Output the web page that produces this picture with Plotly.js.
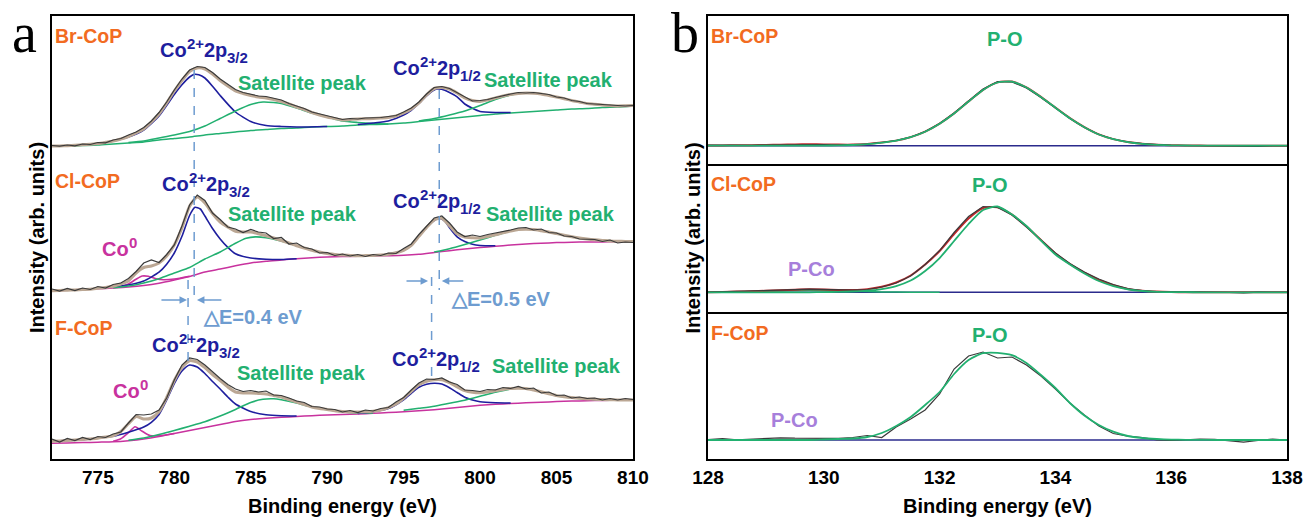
<!DOCTYPE html>
<html><head><meta charset="utf-8">
<script src="https://cdn.plot.ly/plotly-3.0.1.min.js"></script>
<style>html,body{margin:0;padding:0;background:#fff}</style>
</head><body><div id="chart" style="width:1308px;height:521px"></div>
<script>
// ---------- Panel a : Co 2p (binding energy, eV) ----------
const eA = [772,773,774,775,776,777,778,779,780,781,782,783,784,785,786,787,788,789,790,791,792,793,794,795,796,797,798,799,800,801,802,803,804,805,806,807,808,809,810];
const eAh = [772,772.5,773,773.5,774,774.5,775,775.5,776,776.5,777,777.5,778,778.5,779,779.5,780,780.5,781,781.5,782,782.5,783,783.5,784,784.5,785,785.5,786,786.5,787,787.5,788,788.5,789,789.5,790,790.5,791,791.5,792,792.5,793,793.5,794,794.5,795,795.5,796,796.5,797,797.5,798,798.5,799,799.5,800,800.5,801,801.5,802,802.5,803,803.5,804,804.5,805,805.5,806,806.5,807,807.5,808,808.5,809,809.5,810];

// Br-CoP
const brBg = [313,313,313.5,314,315,316,317,319,320.5,322,324,325.5,327,328.5,329.5,330.5,331,332,332.5,333,334,334.5,335,336,337.5,339,340.5,342,343.5,345,346,347,348,349,350,350.5,351.5,352,353];
const brEnv = [313,313.1,313.3,313.7,314.2,314.8,315.5,316.7,318,320,322.5,326,330,337,345,356,368,378.5,387.5,391,390,385,378.5,373,368,365.5,363.5,362,361,359.5,357.5,355,352,349.5,346.5,344,342,340.5,339,339.5,340,340.2,340.5,341,341.5,343,346,350,356,364.2,370.5,371.5,370,366,361,358.5,357.5,359,361,363,364.5,365.5,366,365.8,365,363.5,362,360.3,358.5,357,355.5,354.8,354,353.5,353,353.2,353.5];
const brRaw = [313.5,312.8,314,313.2,315,314.5,316.5,316.2,319,320.5,324,327,331.5,338,346.5,357,369,380,389,392.5,391.5,386.5,380,374.5,369.5,366.5,365,363,362.5,360.5,359,355.5,353,350.5,347,345,343,341.5,339.5,340.5,340,341,341,341.5,342.5,343.5,347,351,357,365,371.5,372.5,370.5,366.5,362,358,358.5,359.5,361.5,363.5,365,366.5,366,366.5,365.5,364.5,362,361,358.5,357.5,355.5,355,354.5,353.5,353.5,353,353.5];
const brP32x = [774,775,776,777,778,779,780,780.5,781,781.3,781.6,782,782.5,783,784,785,786,787,788,790];
const brP32y = [314.2,315.5,318,322,329,343,364.5,374.2,382,384.6,384.2,381,372.8,363.5,347,337.5,333.5,332.5,332,332.5];
const brSat1x = [777,778,779,780,781,782,783,784,785,785.8,786.5,787,788,789,790,791,792,793,794];
const brSat1y = [316.5,318,321,324,327.5,333,340.5,348,354.5,357,356.5,355.5,351,346,342,338,336.5,335.5,335];
const brP12x = [792,793,794,795,795.5,796,796.5,797,797.2,797.5,798,798.5,799,799.5,800,801,802];
const brP12y = [334.5,336,338,344,348.7,355.5,363.2,369,370,369.7,366.5,362.2,355,350.7,347.5,346.5,346.5];
const brSat2x = [796,797,798,799,800,801,802,802.8,803.5,804,805,806,807,808,809,810];
const brSat2y = [338,340.5,344,348,353.5,359.5,364,366,366,365,362,358.5,355.5,354,353,353.5];

// Cl-CoP
const clBg = [168.3,168.8,169.5,170.2,171,172,173.5,175.8,179,182.5,187,190,193.2,196,197.8,199,200.3,201.3,202,202.4,202.8,203,203.3,203.7,204.7,206.5,208.3,210,211.5,212.7,214,215,215.8,216.4,216.8,217,217.1,217.2,217.3];
const clEnv = [168.3,168.5,168.8,169.1,169.5,169.8,170.7,171.6,172.8,175,178,186,191.5,193,196,203,214,231.2,252.8,262,256,245.5,237,232,227.7,227,227,225.3,223.3,221,218.5,216,213.3,211,208.8,207,205.5,204.6,203.9,203.6,203.3,203.4,203.5,204,204.8,206.2,208.7,213.7,222.7,231.6,239,240.8,233.3,225.2,222,221.3,221,222.5,224.2,226.2,228,229.5,229.8,229.5,228.3,227,225.4,223.8,222.3,221,220,219.2,218.6,218,217.7,217.6,217.5];
const clRaw = [170,168,170.5,168.5,171,169.5,172.5,171,174.5,176,180.5,187.5,196,199,196.5,204.5,214,233,254,264,258.5,246,239.5,232,230,226.5,229.5,227,226,220.5,221.5,215,216,211.5,210,206,206.5,203.5,205,203,204.5,202.5,204.5,203.5,206,205.5,210.5,215,224.5,233,241,243,236,227,222.5,224,222.5,224.5,226,227,229,231,231.5,229,230,226.5,226,223,222.5,220,219.5,219.5,217.5,219,216,217,216.5];
const clCo0x = [776,776.5,777,777.5,777.9,778.3,778.8,779.3,780,781];
const clCo0y = [171.3,172.5,175,179.8,183,182.7,180.2,179.3,180,182.8];
const clP32x = [775,776,777,778,779,779.5,780,780.5,781,781.35,781.7,782,782.5,783,783.5,784,785,786,787,788];
const clP32y = [170.7,172.2,174,178,186.8,194.8,206,222.7,243.5,251.7,250,243,230.5,220,211.6,205.2,201,199.8,199.5,200.3];
const clSat1x = [776,777,778,779,780,781,782,783,784,784.7,785.3,786,787,788,789,790,791,792];
const clSat1y = [171.3,173,176,180.3,186,191.5,200,207,215.7,220.7,222.1,221.3,218,213.3,208.8,205.5,203.9,203.3];
const clP12x = [793,794,795,795.5,796,796.5,797,797.33,797.7,798,798.5,799,799.5,800,801];
const clP12y = [203.5,204.8,208.7,213.7,222.7,231.6,238.5,240.7,237.8,231.3,222.2,217.5,214.7,213.5,213.2];
const clSat2x = [797,798,799,800,801,802,802.6,803.3,804,805,806,807,808,809,810];
const clSat2y = [207,210.3,214.5,219,223.7,228,229.7,229.7,228.3,225.4,222.3,220,218.6,217.7,217.5];

// F-CoP
const fBg = [15.7,16,16.4,16.8,17.2,18.3,20,22.5,25.5,28.5,31.5,34.5,37.5,39.5,40.8,41.7,42.5,43.3,44,44.5,45,45.7,46.4,47.2,48.2,49.3,50.8,52.3,53.7,54.7,55.5,56.2,56.8,57.4,57.9,58.3,58.6,58.8,59];
const fEnv = [17.7,18.1,18.5,19,19.4,20.1,20.8,22,23.2,27.5,35.3,42.5,40,41,47.2,61.5,78.5,91.6,98.3,97,91.3,84.5,78.5,72,67,66,66,65.5,65,63.5,62,59.5,57,54.5,52,50.5,49.5,48.2,47.5,47,47,47.3,47.8,49,51.4,55,60.7,67.7,74.2,77.7,79.3,79.2,76.3,72.2,68.3,66.7,66.2,67,68.2,69.5,70.5,70.7,70.5,69,67.3,65.3,63.4,62.3,61.4,60.7,60.1,59.7,59.4,59.2,59.1,59,59];
const fRaw = [20,17,20.5,18.5,21.5,19.5,22.5,21.5,25,27,36,44.5,44,45,49,61,79,94,101,99.5,94,87,80.5,74.5,70,67.5,68.5,67,68,64,63.5,61,58,56.5,52.5,52,50,49.5,47,48.5,46.5,49,48,50.5,51.5,57,61.5,69,76,80,79.5,81,77,74.5,69,68.5,67.5,69.5,69,71.5,70.5,72.5,70,71,66,67,63.5,64,61,62,60.5,61,59,60.5,59,60.5,59.5];
const fCo0x = [776,776.5,777,777.43,777.9,778.4,779,780];
const fCo0y = [17.7,20.2,26.3,32.3,27.8,23.5,23.2,25.5];
const fP32x = [772,774,775,776,777,778,778.5,779,779.5,780,780.5,781,781.5,782,782.5,783,783.5,784,785,786,787,788];
const fP32y = [17.7,19.4,20.8,22.7,26.8,32,36.7,44.5,59,75.5,88,94,92,85.5,77.5,70,62,55,47.5,44.3,43.2,43];
const fSat1x = [777,778,779,780,781,782,783,784,785,785.8,786.5,787,788,789,790,791,792,793];
const fSat1y = [18.8,21,24.5,28.5,32.8,37.3,43,49.5,56.5,59.7,60.2,59.2,56,51.8,49.5,47,46,46];
const fP12x = [792,793,794,795,795.5,796,796.5,797,797.5,798,798.5,799,799.5,800,801,802];
const fP12y = [45.5,47.2,50.4,59.2,65.7,71.7,74.7,75.8,75,71.3,66.5,61.8,59,57.2,56.2,56];
const fSat2x = [795,796,797,798,799,800,801,802,802.4,803,804,805,806,807,808,809,810];
const fSat2y = [48.7,50.7,52.8,55.8,58.8,62.7,66.7,70,70.7,70.5,67.3,63.4,61.4,60.1,59.4,59.1,59];

// ---------- Panel b : P 2p ----------
const eB = [128,128.25,128.5,128.75,129,129.25,129.5,129.75,130,130.25,130.5,130.75,131,131.25,131.5,131.75,132,132.25,132.5,132.75,133,133.25,133.5,133.75,134,134.25,134.5,134.75,135,135.25,135.5,135.75,136,136.25,136.5,136.75,137,137.25,137.5,137.75,138];
const eBends = [128,138];
const bBrRaw = [18.8,18.6,18.9,18.7,19,19.2,19.6,19.4,19.3,19,19.2,20,21.5,23.5,27,32.5,40.5,51,63,75,82.5,82,76,66.5,56,45.5,36.5,29.5,25,22,20.3,19.2,18.6,18.5,18.3,18.4,17.8,18.3,17.7,18.3,18.3];
const bBrPO = [18.3,18.3,18.3,18.3,18.3,18.3,18.3,18.3,18.4,18.6,19,19.8,21.3,23.3,26.8,32.3,40.3,50.5,62.5,74,81.5,82.3,76.5,67,56.3,45.8,36.8,29.5,24.8,21.8,20.1,19.2,18.7,18.5,18.4,18.3,18.3,18.3,18.3,18.3,18.3];
const bBrEnv = [18.6,18.6,18.7,18.8,19,19.3,19.6,19.8,19.6,19.4,19.4,20.1,21.5,23.4,26.9,32.4,40.4,50.6,62.6,74.1,81.6,82.4,76.6,67.1,56.4,45.9,36.9,29.6,24.9,21.9,20.2,19.3,18.8,18.6,18.4,18.3,18.3,18.3,18.3,18.3,18.3];
const bBrBase = [18.3,18.3];
const bClRaw = [19.9,20.2,20.5,20.8,21.3,21.7,22.4,22.8,22.6,22.0,21.8,22.5,25,29,36,47.5,61.5,79.5,95.5,105.5,104.5,97,85,72,59,48.5,40,33,27.5,23.5,21.5,20.5,20,20.2,19.8,19.9,19.5,19.2,19.8,19.6,19.7];
const bClPO = [19.7,19.7,19.7,19.7,19.7,19.7,19.7,19.7,19.9,20.1,20.5,21.3,23,26,31.5,41,54,71,88,102,105.5,97.5,86,71.5,57.5,47.5,38.5,31,26,22.7,21,20.2,19.9,19.8,19.7,19.7,19.7,19.7,19.7,19.7,19.7];
const bClEnv = [19.8,20.1,20.4,20.8,21.2,21.7,22.3,22.7,22.5,22.1,22,22.8,25.2,29.5,36.5,47.5,61,78,93.5,104,104.8,97.3,85.5,72,58.5,48,39.3,32,26.8,23.1,21.3,20.4,20,19.8,19.7,19.7,19.7,19.7,19.7,19.7,19.7];
const bClPCoX = [128,128.5,129,129.5,129.75,130,130.5,131,131.5,132];
const bClPCoY = [19.8,20.2,20.8,21.5,21.8,21.6,20.8,20.1,19.8,19.7];
const bClBase = [19.7,19.7];
const bFRaw = [19.5,20.3,19.2,19.8,20.5,21.2,20.8,20.5,20.3,20.6,21.5,23.5,21.5,32,40,49,65,90,103,107,101,102,94,83,70,56,44,33,25.5,22.8,21.5,19.2,18.5,19.5,19.8,19.6,18,16.8,18.5,20,19];
const bFPO = [19,19,19,19,19,19,19,19,19.5,20,20.5,22,26,33,42,54,67,85,99,105.8,106.2,103.8,96,84,71,56,43.5,34,27.3,23,21,20,19.4,19.2,19.1,19,19,19,19,19,19];
const bFBase = [19,19];

// ---------- styling ----------
const FONT = '"Liberation Sans", Arial, Helvetica, sans-serif';
const ORANGE = '#F26B21', NAVY = '#1E1E9E', GREEN = '#22B070', MAG = '#C8329E',
      DBLUE = '#6E9CD0', LAV = '#A77FDB', TAN = '#BBA794', RAW = '#3A3A3A', RED = '#C4262B', BASE = '#2B2B8C';

const traces = [];
function ln(x, y, color, width, xa, ya, shape) {
  traces.push({x: x, y: y, type: 'scatter', mode: 'lines', xaxis: xa || 'x', yaxis: ya || 'y',
    line: {color: color, width: width, shape: shape || 'spline', smoothing: 0.6}, hoverinfo: 'skip'});
}
// panel a
[[brBg, GREEN], [clBg, MAG], [fBg, MAG]].forEach(([y, c]) => ln(eA, y, c, 1.5));
ln(brP32x, brP32y, NAVY, 1.6); ln(brSat1x, brSat1y, GREEN, 1.6); ln(brP12x, brP12y, NAVY, 1.6); ln(brSat2x, brSat2y, GREEN, 1.6);
ln(clCo0x, clCo0y, MAG, 1.6); ln(clP32x, clP32y, NAVY, 1.6); ln(clSat1x, clSat1y, GREEN, 1.6); ln(clP12x, clP12y, NAVY, 1.6); ln(clSat2x, clSat2y, GREEN, 1.6);
ln(fCo0x, fCo0y, MAG, 1.6); ln(fP32x, fP32y, NAVY, 1.6); ln(fSat1x, fSat1y, GREEN, 1.6); ln(fP12x, fP12y, NAVY, 1.6); ln(fSat2x, fSat2y, GREEN, 1.6);
ln(eAh, brEnv, TAN, 3); ln(eAh, clEnv, TAN, 3); ln(eAh, fEnv, TAN, 3);
ln(eAh, brRaw, RAW, 1.2, 'x', 'y', 'linear'); ln(eAh, clRaw, RAW, 1.2, 'x', 'y', 'linear'); ln(eAh, fRaw, RAW, 1.2, 'x', 'y', 'linear');
// panel b
ln(eBends, bBrBase, BASE, 1.5, 'x2', 'y2', 'linear');
ln(eB, bBrEnv, RED, 2, 'x2', 'y2');
ln(eB, bBrRaw, RAW, 1.2, 'x2', 'y2', 'linear');
ln(eB, bBrPO, GREEN, 1.8, 'x2', 'y2');
ln(eBends, bClBase, BASE, 1.5, 'x3', 'y3', 'linear');
ln(bClPCoX, bClPCoY, GREEN, 1.5, 'x3', 'y3');
ln(eB, bClEnv, RED, 2, 'x3', 'y3');
ln(eB, bClRaw, RAW, 1.2, 'x3', 'y3', 'linear');
ln(eB, bClPO, GREEN, 1.8, 'x3', 'y3');
ln(eBends, bFBase, BASE, 1.5, 'x4', 'y4', 'linear');
ln(eB, bFRaw, RAW, 1.2, 'x4', 'y4', 'linear');
ln(eB, bFPO, GREEN, 1.8, 'x4', 'y4');

// ---------- text labels ----------
const annotations = [];
const ctx = document.createElement('canvas').getContext('2d');
function textWidth(t, size) { ctx.font = 'bold ' + size + 'px "Liberation Sans"'; return ctx.measureText(t).width; }
function plain(t, x, y, color, xref, yref, xanchor, size) {
  annotations.push({text: t, x: x, y: y, xref: xref || 'x', yref: yref || 'y', xanchor: xanchor || 'center', yanchor: 'middle',
    showarrow: false, borderpad: 0, borderwidth: 0, font: {family: FONT, size: size || 20, color: color, weight: 'bold'}});
}
// composite label: main text with raised / lowered small parts, drawn piece by piece from its left edge
const MAIN = 20, SMALL = 15;
function composite(pieces, x, y, color) {
  let off = 0;
  pieces.forEach(([t, kind]) => {
    const size = kind ? SMALL : MAIN;
    const shift = kind === 'sup' ? 6.5 : kind === 'sub' ? -7.5 : 0;
    annotations.push({text: t, x: x, y: y, xref: 'x', yref: 'y', xanchor: 'left', yanchor: 'middle', xshift: off, yshift: shift,
      showarrow: false, borderpad: 0, borderwidth: 0, font: {family: FONT, size: size, color: color, weight: 'bold'}});
    off += textWidth(t, size);
  });
}
const P32 = [['Co'], ['2+', 'sup'], ['2p'], ['3/2', 'sub']];
const P12 = [['Co'], ['2+', 'sup'], ['2p'], ['1/2', 'sub']];
const CO0 = [['Co'], ['0', 'sup']];
const SAT = 'Satellite peak';

plain('Br-CoP', 772.2, 423, ORANGE, 'x', 'y', 'left', 19.5);
composite(P32, 779.06, 409, NAVY); plain(SAT, 788.4, 376, GREEN); composite(P12, 794.3, 391.5, NAVY); plain(SAT, 804.5, 379, GREEN);
plain('Cl-CoP', 772.2, 278, ORANGE, 'x', 'y', 'left', 19.5);
composite(P32, 779.19, 275.5, NAVY); plain(SAT, 787.7, 245, GREEN); composite(CO0, 775.27, 210.5, MAG);
composite(P12, 794.3, 258.5, NAVY); plain(SAT, 804.6, 245, GREEN);
plain('\u25B3E=0.4 eV', 785.15, 142, DBLUE); plain('\u25B3E=0.5 eV', 801.37, 160, DBLUE);
plain('F-CoP', 772.2, 131, ORANGE, 'x', 'y', 'left', 19.5);
composite(P32, 778.54, 114, NAVY); composite(CO0, 775.99, 68, MAG); plain(SAT, 788.35, 86, GREEN);
composite(P12, 794.24, 100.5, NAVY); plain(SAT, 805.0, 93, GREEN);
plain('Br-CoP', 128.05, 128, ORANGE, 'x2', 'y2', 'left', 19.5); plain('P-O', 133.13, 125, GREEN, 'x2', 'y2');
plain('Cl-CoP', 128.05, 128, ORANGE, 'x3', 'y3', 'left', 19.5); plain('P-O', 132.87, 127, GREEN, 'x3', 'y3'); plain('P-Co', 129.79, 43, LAV, 'x3', 'y3');
plain('F-CoP', 128.05, 126, ORANGE, 'x4', 'y4', 'left', 19.5); plain('P-O', 132.87, 124, GREEN, 'x4', 'y4'); plain('P-Co', 129.5, 39, LAV, 'x4', 'y4');

// ΔE arrows (pointing toward the peak positions)
const arrows = [[780.83, 159, 779.06], [781.48, 159, 783.18], [796.6, 178, 795.09], [797.5, 178, 799.0]];
arrows.forEach(([x, y, ax]) => annotations.push({
  x: x, y: y, ax: ax, ay: y, xref: 'x', yref: 'y', axref: 'x', ayref: 'y', text: '', showarrow: true,
  arrowhead: 2, arrowsize: 1, arrowwidth: 1.5, arrowcolor: DBLUE
}));
// panel letters
annotations.push({text: 'a', x: -0.022, y: 0.962, xref: 'paper', yref: 'paper', showarrow: false, xanchor: 'center', yanchor: 'middle',
  font: {family: '"Liberation Serif", "Times New Roman", serif', size: 56, color: '#000'}});
annotations.push({text: 'b', x: 0.5126, y: 0.962, xref: 'paper', yref: 'paper', showarrow: false, xanchor: 'center', yanchor: 'middle',
  font: {family: '"Liberation Serif", "Times New Roman", serif', size: 56, color: '#000'}});

// dashed guide lines through the Co2+ peak positions
const guides = [[781.3, 389, 156], [780.9, 179, 95], [797.33, 369, 169], [796.83, 182, 76]];
const shapes = guides.map(([x, y0, y1]) => ({type: 'line', xref: 'x', yref: 'y', x0: x, x1: x, y0: y0, y1: y1,
  line: {color: DBLUE, width: 1.5, dash: 'dash'}}));

const axBase = {showline: true, mirror: true, linecolor: '#000', linewidth: 2, showgrid: false, zeroline: false, ticks: ''};
const tickF = {family: FONT, size: 19, color: '#000', weight: 'bold'};
const titleF = {family: FONT, size: 20, color: '#000', weight: 'bold'};
const layout = {
  width: 1308, height: 521, margin: {l: 52, r: 21, t: 16, b: 62},
  paper_bgcolor: '#fff', plot_bgcolor: '#fff', showlegend: false,
  font: {family: FONT, size: 19, color: '#000'},
  xaxis: Object.assign({}, axBase, {domain: [0, 0.4704], range: [772, 810], tick0: 775, dtick: 5, tickfont: tickF,
    title: {text: 'Binding energy (eV)', font: titleF, standoff: 12}}),
  yaxis: Object.assign({}, axBase, {domain: [0, 1], range: [0, 443], showticklabels: false,
    title: {text: 'Intensity (arb. units)', font: titleF, standoff: 0}}),
  xaxis2: Object.assign({}, axBase, {domain: [0.5312, 1], range: [128, 138], anchor: 'y2', showticklabels: false, mirror: true}),
  yaxis2: Object.assign({}, axBase, {domain: [0.6659, 1], range: [0, 148], anchor: 'x2', showticklabels: false}),
  xaxis3: Object.assign({}, axBase, {domain: [0.5312, 1], range: [128, 138], anchor: 'y3', showticklabels: false, mirror: false}),
  yaxis3: Object.assign({}, axBase, {domain: [0.3318, 0.6659], range: [0, 148], anchor: 'x3', showticklabels: false,
    title: {text: 'Intensity (arb. units)', font: titleF, standoff: 0}}),
  xaxis4: Object.assign({}, axBase, {domain: [0.5312, 1], range: [128, 138], anchor: 'y4', tick0: 128, dtick: 2, tickfont: tickF, mirror: false,
    title: {text: 'Binding energy (eV)', font: titleF, standoff: 12}}),
  yaxis4: Object.assign({}, axBase, {domain: [0, 0.3318], range: [0, 147], anchor: 'x4', showticklabels: false}),
  annotations: annotations, shapes: shapes
};
Plotly.newPlot('chart', traces, layout, {staticPlot: true, displayModeBar: false});
</script></body></html>
